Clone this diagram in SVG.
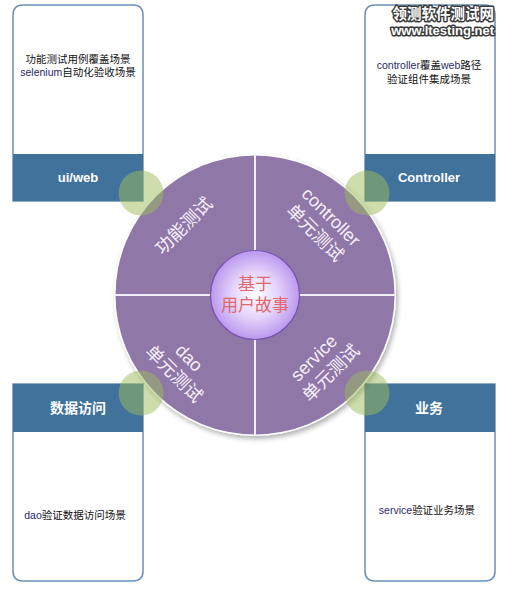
<svg xmlns="http://www.w3.org/2000/svg" width="505" height="592" viewBox="0 0 505 592">
<defs>
<style>
.box{fill:#ffffff;stroke:#6a8fb5;stroke-width:1.5}
.band{fill:#41729c}
.desc{font-family:"Liberation Sans","Noto Sans CJK SC",sans-serif;font-size:10.5px;fill:#111;text-anchor:middle;dominant-baseline:central}
.head{font-family:"Liberation Sans","Noto Sans CJK SC",sans-serif;font-weight:bold;font-size:13px;fill:#ffffff;text-anchor:middle;dominant-baseline:central}
.headcn{font-size:14px}
.slice{fill:#8f77a8}
.div{stroke:#f2eef6;stroke-width:2}
.rot{font-family:"Liberation Sans","Noto Sans CJK SC",sans-serif;font-size:18px;fill:#f6f0fb;text-anchor:middle;dominant-baseline:central}
.core{font-family:"Liberation Sans","Noto Sans CJK SC",sans-serif;font-size:17px;fill:#e0686e;text-anchor:middle;dominant-baseline:central}
.dot{fill:#9bbb59;fill-opacity:0.5}
.wm{font-family:"Liberation Sans","Noto Sans CJK SC",sans-serif;font-weight:bold;fill:#ffffff;stroke:#3a3a3a;stroke-width:3;paint-order:stroke;stroke-linejoin:round;text-anchor:end;dominant-baseline:central}
</style>
<radialGradient id="coreGrad" cx="0.5" cy="0.5" r="0.5">
<stop offset="0" stop-color="#ffffff"/>
<stop offset="0.5" stop-color="#e6d6fb"/>
<stop offset="1" stop-color="#bb98ee"/>
</radialGradient>
<filter id="shadow" x="-10%" y="-10%" width="125%" height="125%">
<feDropShadow dx="2" dy="3" stdDeviation="2.5" flood-color="#000" flood-opacity="0.3"/>
</filter>
</defs>

<g id="box-uiweb">
<path class="box" d="M13,201 V15 Q13,5 23,5 H133 Q143,5 143,15 V201 Z"/>
<rect class="band" x="13" y="154" width="130" height="47"/>
<text class="desc" x="78" y="59">功能测试用例覆盖场景</text>
<text class="desc" x="78" y="72"><tspan fill="#2a2a6a">selenium</tspan>自动化验收场景</text>
<text class="head" x="78" y="177">ui/web</text>
</g>

<g id="box-controller">
<path class="box" d="M365,201 V15 Q365,5 375,5 H485 Q495,5 495,15 V201 Z"/>
<rect class="band" x="365" y="154" width="130" height="47"/>
<text class="desc" x="429" y="65"><tspan fill="#2a2a6a">controller</tspan>覆盖<tspan fill="#2a2a6a">web</tspan>路径</text>
<text class="desc" x="429" y="79">验证组件集成场景</text>
<text class="head" x="429" y="177">Controller</text>
</g>

<g id="box-dao">
<path class="box" d="M13,384 H143 V571 Q143,581 133,581 H23 Q13,581 13,571 Z"/>
<rect class="band" x="13" y="384" width="130" height="48"/>
<text class="head headcn" x="78" y="408">数据访问</text>
<text class="desc" x="75" y="515"><tspan fill="#2a2a6a">dao</tspan>验证数据访问场景</text>
</g>

<g id="box-service">
<path class="box" d="M365,384 H495 V571 Q495,581 485,581 H375 Q365,581 365,571 Z"/>
<rect class="band" x="365" y="384" width="130" height="48"/>
<text class="head headcn" x="429" y="408">业务</text>
<text class="desc" x="427" y="510"><tspan fill="#2a2a6a">service</tspan>验证业务场景</text>
</g>

<g id="wheel">
<circle cx="255" cy="295" r="141" fill="#ffffff" filter="url(#shadow)"/>
<circle class="slice" cx="255" cy="295" r="139.5"/>
<line class="div" x1="255" y1="155" x2="255" y2="435"/>
<line class="div" x1="115" y1="295" x2="395" y2="295"/>
</g>

<g id="seg-func">
<text class="rot" transform="translate(184,226) rotate(-45)">功能测试</text>
</g>
<g id="seg-controller">
<text class="rot" transform="translate(331,217) rotate(45)">controller</text>
<text class="rot" transform="translate(315,233) rotate(45)">单元测试</text>
</g>
<g id="seg-dao">
<text class="rot" transform="translate(189,358) rotate(45)">dao</text>
<text class="rot" transform="translate(174,374) rotate(45)">单元测试</text>
</g>
<g id="seg-service">
<text class="rot" transform="translate(314,358) rotate(-45)">service</text>
<text class="rot" transform="translate(331,373) rotate(-45)">单元测试</text>
</g>

<g id="core">
<circle cx="255" cy="295" r="44.5" fill="url(#coreGrad)" stroke="#7b52b0" stroke-width="1.2"/>
<text class="core" x="255" y="284">基于</text>
<text class="core" x="255" y="305">用户故事</text>
</g>

<g id="joints">
<circle class="dot" cx="141" cy="193" r="22.5"/>
<circle class="dot" cx="367" cy="193" r="22.5"/>
<circle class="dot" cx="141" cy="393" r="22.5"/>
<circle class="dot" cx="367" cy="393" r="22.5"/>
</g>

<g id="watermark">
<text class="wm" x="494" y="14" font-size="14.5px">领测软件测试网</text>
<text class="wm" x="494" y="30" font-size="13px">www.ltesting.net</text>
</g>
</svg>
